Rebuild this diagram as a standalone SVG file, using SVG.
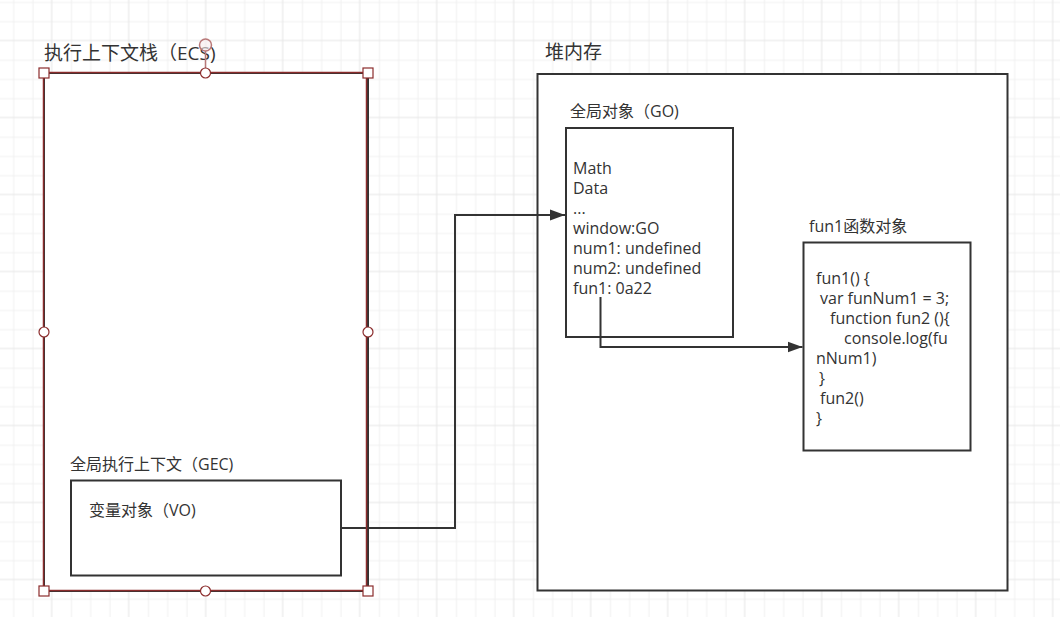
<svg xmlns="http://www.w3.org/2000/svg" width="1060" height="617" viewBox="0 0 1060 617">
  <style>
    .t { font-family: "Open Sans", "Noto Sans CJK SC", sans-serif; fill: #333333; }
    .lbl { font-size: 16px; }
    .big { font-size: 19px; }
    .code { font-size: 16px; }
    .box { fill: #ffffff; stroke: #333333; stroke-width: 2; }
    .conn { fill: none; stroke: #333333; stroke-width: 2; }
    .hsq { fill: #ffffff; stroke: #8b2c2c; stroke-width: 1.2; }
    .hci { fill: #ffffff; stroke: #8b2c2c; stroke-width: 1.2; }
  </style>
  <defs>
    <pattern id="grid" patternUnits="userSpaceOnUse" x="41.7" y="30.5" width="77" height="77">
      <rect x="0" y="0" width="77" height="77" fill="#ffffff"/>
      <rect x="29.25" y="0" width="1" height="77" fill="#f1f1f1"/>
      <rect x="48.5" y="0" width="1" height="77" fill="#f1f1f1"/>
      <rect x="67.75" y="0" width="1" height="77" fill="#f1f1f1"/>
      <rect x="0" y="29.25" width="77" height="1" fill="#f1f1f1"/>
      <rect x="0" y="48.5" width="77" height="1" fill="#f1f1f1"/>
      <rect x="0" y="67.75" width="77" height="1" fill="#f1f1f1"/>
      <rect x="9.5" y="0" width="1" height="77" fill="#e6e6e6"/>
      <rect x="0" y="9.5" width="77" height="1" fill="#e6e6e6"/>
    </pattern>
    <marker id="arrow" markerUnits="userSpaceOnUse" markerWidth="16" markerHeight="12" refX="15" refY="6" orient="auto">
      <path d="M0,0.5 L15,6 L0,11.5 z" fill="#333333"/>
    </marker>
  </defs>

  <rect x="0" y="0" width="1060" height="617" fill="url(#grid)"/>

  <g id="heap">
    <rect class="box" x="537.5" y="74" width="470" height="516.5"/>
    <text class="t big" x="545" y="59">堆内存</text>
  </g>

  <g id="ecs">
    <rect class="box" x="44" y="73" width="324" height="518"/>
    <text class="t big" x="44" y="60">执行上下文栈（ECS)</text>
  </g>

  <g id="gec">
    <text class="t lbl" x="70" y="470">全局执行上下文（GEC)</text>
    <rect class="box" x="71" y="480.5" width="270" height="95"/>
    <text class="t lbl" x="89" y="516">变量对象（VO)</text>
  </g>

  <g id="go">
    <text class="t lbl" x="570" y="117">全局对象（GO)</text>
    <rect class="box" x="566" y="128" width="167" height="209"/>
    <text class="t code" x="573" y="174">Math</text>
    <text class="t code" x="573" y="194">Data</text>
    <text class="t code" x="573" y="214">...</text>
    <text class="t code" x="573" y="234">window:GO</text>
    <text class="t code" x="573" y="254">num1: undefined</text>
    <text class="t code" x="573" y="274">num2: undefined</text>
    <text class="t code" x="573" y="294">fun1: 0a22</text>
  </g>

  <g id="fun1">
    <text class="t lbl" x="809" y="232">fun1函数对象</text>
    <rect class="box" x="803.5" y="242.5" width="167" height="208"/>
    <text class="t code" x="816" y="284">fun1() {</text>
    <text class="t code" x="820" y="304">var funNum1 = 3;</text>
    <text class="t code" x="830" y="324">function fun2 (){</text>
    <text class="t code" x="844" y="344">console.log(fu</text>
    <text class="t code" x="816" y="364">nNum1)</text>
    <text class="t code" x="819" y="384">}</text>
    <text class="t code" x="820" y="404">fun2()</text>
    <text class="t code" x="816" y="424">}</text>
  </g>

  <g id="connectors">
    <path class="conn" d="M341,528 H455 V215 H565" marker-end="url(#arrow)"/>
    <path class="conn" d="M600.5,297 V347 H802.5" marker-end="url(#arrow)"/>
  </g>

  <g id="selection">
    <rect x="43.5" y="72.5" width="323" height="518" fill="none" stroke="#8b2c2c" stroke-width="1.5"/>
    <line x1="205.5" y1="51" x2="205.5" y2="68" stroke="#b87878" stroke-width="1.5"/>
    <circle cx="205.5" cy="45" r="6" fill="#f7ecec" fill-opacity="0.6" stroke="#b87878" stroke-width="1.5"/>
    <rect class="hsq" x="39" y="68" width="10" height="10"/>
    <rect class="hsq" x="363" y="68" width="10" height="10"/>
    <rect class="hsq" x="39" y="586" width="10" height="10"/>
    <rect class="hsq" x="363" y="586" width="10" height="10"/>
    <circle class="hci" cx="205.5" cy="73" r="5"/>
    <circle class="hci" cx="205.5" cy="591" r="5"/>
    <circle class="hci" cx="44" cy="332" r="5"/>
    <circle class="hci" cx="368" cy="332" r="5"/>
  </g>
</svg>
